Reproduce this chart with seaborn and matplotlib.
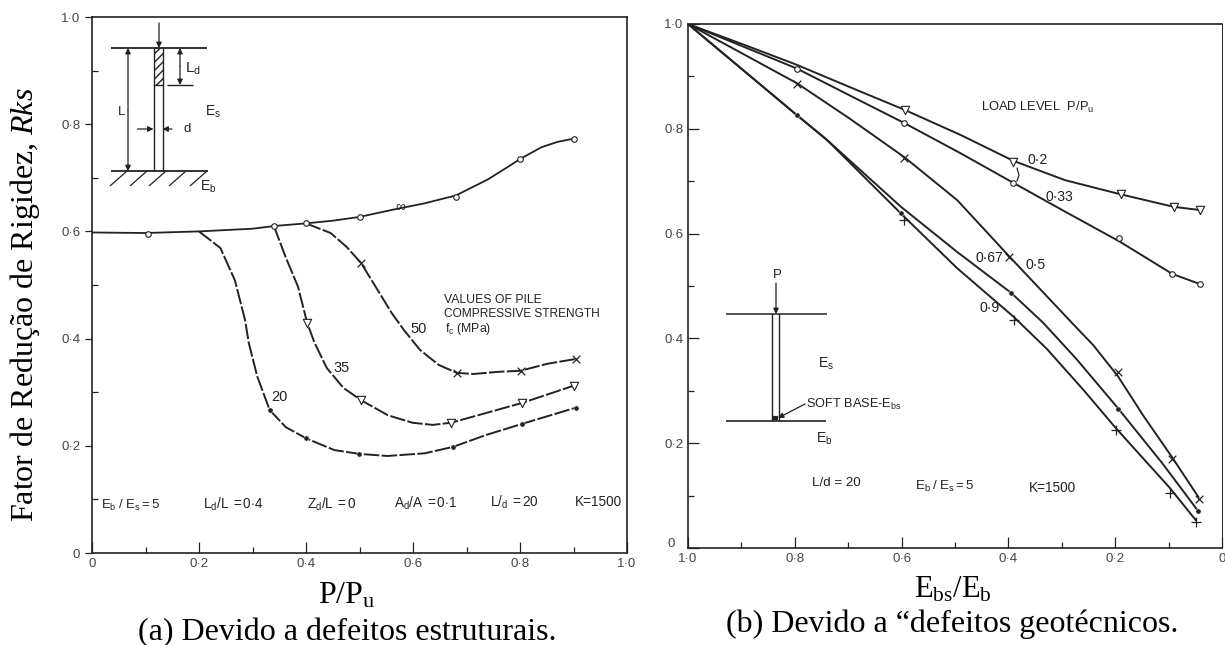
#import packages
import matplotlib.pyplot as plt
from matplotlib.transforms import ScaledTranslation
import seaborn as sns

sns.set_style("white")
plt.rcParams['font.family'] = ['Liberation Sans', 'DejaVu Sans']
plt.rcParams['mathtext.fontset'] = 'custom'
plt.rcParams['mathtext.rm'] = 'Liberation Serif'
plt.rcParams['mathtext.it'] = 'Liberation Serif:italic'
plt.rcParams['mathtext.sf'] = 'Liberation Sans'

#left chart: curves
inf_x = [0, .1, .2, .3, .34, .4, .45, .5, .56, .62, .68, .74, .78, .8, .84, .87, .9]
inf_y = [.598, .597, .6, .605, .61, .615, .62, .627, .64, .652, .667, .697, .722, .735, .757, .767, .773]
inf_mx = [.105, .34, .4, .5, .68, .8, .9]
inf_my = [.596, .61, .615, .627, .665, .735, .773]

fc20_x = [.2, .24, .267, .286, .293, .309, .332, .362, .4, .453, .499, .552, .622, .675, .736, .804, .904]
fc20_y = [.6, .569, .509, .435, .392, .329, .267, .235, .214, .192, .185, .181, .186, .198, .22, .241, .271]
fc20_mx = [.332, .4, .499, .675, .804, .904]
fc20_my = [.267, .214, .185, .198, .241, .271]

fc35_x = [.34, .362, .385, .402, .416, .439, .47, .503, .553, .599, .637, .671, .736, .804, .9]
fc35_y = [.61, .552, .497, .43, .392, .345, .308, .285, .257, .243, .239, .243, .261, .28, .312]
fc35_mx = [.402, .503, .671, .804, .9]
fc35_my = [.43, .285, .243, .28, .312]

fc50_x = [.4, .446, .476, .503, .53, .56, .583, .613, .648, .682, .713, .759, .801, .851, .904]
fc50_y = [.615, .597, .571, .541, .497, .448, .416, .379, .351, .336, .334, .338, .34, .353, .362]
fc50_mx = [.503, .682, .801, .904]
fc50_my = [.541, .336, .34, .362]

#right chart: curves
p20_x = [1, .894, .796, .698, .594, .489, .391, .294, .19, .09, .041]
p20_y = [1, .96, .922, .88, .836, .788, .739, .702, .675, .651, .645]
p20_mx = [.594, .391, .19, .09, .041]
p20_my = [.836, .737, .675, .651, .645]

p33_x = [1, .796, .692, .595, .489, .391, .294, .192, .093, .042]
p33_y = [1, .915, .861, .811, .753, .697, .642, .585, .523, .504]
p33_mx = [.796, .595, .391, .192, .093, .042]
p33_my = [.915, .811, .697, .591, .523, .504]

p50_x = [1, .796, .698, .595, .496, .398, .272, .241, .195, .147, .094, .044]
p50_y = [1, .887, .82, .746, .664, .556, .42, .387, .328, .252, .174, .097]
p50_mx = [.796, .595, .398, .195, .094, .044]
p50_my = [.885, .745, .556, .336, .17, .093]

p67_x = [1, .796, .74, .601, .496, .395, .335, .272, .195, .112, .045]
p67_y = [1, .826, .779, .651, .565, .487, .43, .36, .267, .162, .071]
p67_mx = [.796, .601, .395, .195, .045]
p67_my = [.826, .64, .487, .265, .07]

p90_x = [1, .796, .74, .595, .496, .39, .328, .258, .199, .098, .049]
p90_y = [1, .826, .779, .632, .534, .441, .38, .3, .229, .115, .053]
p90_mx = [.595, .39, .199, .098, .049]
p90_my = [.626, .435, .225, .105, .05]

major = [0, .2, .4, .6, .8, 1]
minor = [.1, .3, .5, .7, .9]
major_labels = ['0', '0·2', '0·4', '0·6', '0·8', '1·0']
ink = '#222222'
long_dash = (0, (8, 1.2))

fig = plt.figure(figsize=(12.25, 6.45), dpi=100)
ax_a = fig.add_axes([92/1225, (645-553)/645, 535/1225, 536/645])
ax_b = fig.add_axes([688/1225, (645-548)/645, 534/1225, 524/645])

#left chart
sns.lineplot(x=inf_x, y=inf_y, ax=ax_a, color=ink, lw=1.3, sort=False, estimator=None)
sns.lineplot(x=fc20_x, y=fc20_y, ax=ax_a, color=ink, lw=1.4, sort=False, estimator=None, linestyle=long_dash)
sns.lineplot(x=fc35_x, y=fc35_y, ax=ax_a, color=ink, lw=1.4, sort=False, estimator=None, linestyle=long_dash)
sns.lineplot(x=fc50_x, y=fc50_y, ax=ax_a, color=ink, lw=1.4, sort=False, estimator=None, linestyle=long_dash)
sns.scatterplot(x=inf_mx, y=inf_my, ax=ax_a, marker='o', s=16, facecolor='white', edgecolor=ink, linewidth=.8, zorder=3)
sns.scatterplot(x=fc20_mx, y=fc20_my, ax=ax_a, marker='o', s=14, color=ink, zorder=3)
sns.scatterplot(x=fc35_mx, y=fc35_my, ax=ax_a, marker='v', s=36, facecolor='white', edgecolor=ink, linewidth=.8, zorder=3)
sns.scatterplot(x=fc50_mx, y=fc50_my, ax=ax_a, marker='x', s=30, color=ink, linewidth=.9, zorder=3)

#right chart
sns.lineplot(x=p20_x, y=p20_y, ax=ax_b, color=ink, lw=1.4, sort=False, estimator=None)
sns.lineplot(x=p33_x, y=p33_y, ax=ax_b, color=ink, lw=1.4, sort=False, estimator=None)
sns.lineplot(x=p50_x, y=p50_y, ax=ax_b, color=ink, lw=1.4, sort=False, estimator=None)
sns.lineplot(x=p67_x, y=p67_y, ax=ax_b, color=ink, lw=1.4, sort=False, estimator=None)
sns.lineplot(x=p90_x, y=p90_y, ax=ax_b, color=ink, lw=1.4, sort=False, estimator=None)
sns.scatterplot(x=p20_mx, y=p20_my, ax=ax_b, marker='v', s=36, facecolor='white', edgecolor=ink, linewidth=.8, zorder=3)
sns.scatterplot(x=p33_mx, y=p33_my, ax=ax_b, marker='o', s=16, facecolor='white', edgecolor=ink, linewidth=.8, zorder=3)
sns.scatterplot(x=p50_mx, y=p50_my, ax=ax_b, marker='x', s=30, color=ink, linewidth=.9, zorder=3)
sns.scatterplot(x=p67_mx, y=p67_my, ax=ax_b, marker='o', s=14, color=ink, zorder=3)
sns.scatterplot(x=p90_mx, y=p90_my, ax=ax_b, marker='+', s=50, color=ink, linewidth=.9, zorder=3)

for ax in [ax_a, ax_b]:
    ax.set_ylim(0, 1)
    ax.set_xticks(major, labels=major_labels)
    ax.set_yticks(major, labels=major_labels)
    ax.set_xticks(minor, minor=True)
    ax.set_yticks(minor, minor=True)
    ax.tick_params(which='major', direction='in', length=8, width=.9, color=ink, labelcolor='#444444', labelsize=9.5, left=True, bottom=True)
    ax.tick_params(which='minor', direction='in', length=4, width=.9, color=ink, left=True, bottom=True)
    for s in ax.spines.values():
        s.set_color(ink)
        s.set_linewidth(1.2)
ax_a.set_xlim(0, 1)
ax_b.set_xlim(1, 0)
ax_a.tick_params(axis='y', which='major', direction='out', length=5)
ax_b.spines['right'].set_linewidth(.7)

#the 0 of the y axis sits up and to the left of the first x label
zero_label = ax_b.get_yticklabels()[0]
zero_label.set_transform(zero_label.get_transform() + ScaledTranslation(-6/72, 4/72, fig.dpi_scale_trans))

#overlay in picture pixels for the hand drawn sketches and the lettering
ov = fig.add_axes([0, 0, 1, 1])
ov.set_xlim(0, 1225)
ov.set_ylim(645, 0)
ov.axis('off')
ov.patch.set_alpha(0)

def seg(x0, y0, x1, y1, lw=1.0):
    ov.plot([x0, x1], [y0, y1], color=ink, lw=lw, solid_capstyle='butt')

def arrow(x0, y0, x1, y1, style='-|>'):
    ov.annotate('', xy=(x1, y1), xytext=(x0, y0),
                arrowprops=dict(arrowstyle=style, color=ink, lw=.9, mutation_scale=8, shrinkA=0, shrinkB=0))

def small(x, y, s, size=9.5, ha='left'):
    ov.text(x, y, s, fontsize=size, color=ink, ha=ha, va='center')

#sketch in the left chart
seg(111, 47.7, 207, 47.7, 1.3)
seg(111, 171, 208, 171, 1.3)
seg(153.5, 47.7, 153.5, 171)
seg(162.5, 47.7, 162.5, 171)
seg(167, 85, 193, 85)
ov.fill_between([153.5, 162.5], 47.7, 85, facecolor='none', edgecolor=ink, hatch='////', lw=0)
seg(153.5, 85, 162.5, 85)
for gx in [127, 147, 166, 186, 207]:
    seg(gx, 171, gx-17, 186, .9)
arrow(159, 23, 159, 48)
arrow(128, 110, 128, 48)
arrow(128, 110, 128, 171)
arrow(180, 66, 180, 48)
arrow(180, 66, 180, 85)
arrow(137.5, 129, 153.5, 129)
arrow(172, 129, 162.5, 129)
small(118, 112, 'L', 9.5)
small(185, 69, r'$\mathsf{L_d}$', 11)
small(184, 129, 'd', 9.5)
small(205, 112, r'$\mathsf{E_s}$', 10)
small(200, 187, r'$\mathsf{E_b}$', 10)

#lettering in the left chart
small(444, 300, 'VALUES OF PILE', 8.8)
small(444, 314, 'COMPRESSIVE STRENGTH', 8.6)
small(445, 329, r'$\mathsf{f_c}$ (MPa)', 8.8)
small(410, 329, '50', 10.5)
small(333, 368, '35', 10.5)
small(271, 397, '20', 10.5)
small(395, 207, '∞', 10)
small(101, 505, r'$\mathsf{E_b\ /\ E_s = 5}$', 9.5)
small(203, 504, r'$\mathsf{L_d/L\ =0{\cdot}4}$', 9.8)
small(307, 504, r'$\mathsf{Z_d/L\ =0}$', 9.8)
small(394, 503, r'$\mathsf{A_d/A\ =0{\cdot}1}$', 9.8)
small(490, 502, r'$\mathsf{L/_d\ =20}$', 9.8)
small(575, 502, 'K=1500', 9.8)

#sketch in the right chart
small(777, 275, 'P', 9.5, ha='center')
arrow(776, 283, 776, 314)
seg(726, 314, 826.6, 314, 1.1)
seg(726, 421, 826, 421, 1.2)
seg(772, 314, 772, 421)
seg(779, 314, 779, 421)
seg(772, 418, 778, 418, 3)
arrow(805, 404, 778, 418)
small(806, 404, r'SOFT BASE-$\mathsf{E_{bs}}$', 9.2)
small(818, 364, r'$\mathsf{E_s}$', 10)
small(816, 439, r'$\mathsf{E_b}$', 10)

#lettering in the right chart
small(981, 107, r'LOAD LEVEL  $\mathsf{P/P_u}$', 9.3)
small(1028, 160, '0·2', 10.2)
small(1046, 197, '0·33', 10)
small(976, 258, '0·67', 10)
small(1025, 265, '0·5', 10.2)
small(980, 308, '0·9', 10.2)
small(812, 483, 'L/d = 20', 9.6)
small(915, 486, r'$\mathsf{E_b\ /\ E_s = 5}$', 9.6)
small(1029, 488, 'K=1500', 9.8)
ov.plot([1017, 1019, 1017], [168, 175, 181], color=ink, lw=.9)

#serif captions around the charts
serif = 'Liberation Serif'
ov.text(33, 305, r'Fator de Redução de Rigidez, $\mathit{Rks}$', fontsize=23, family=serif, color='black',
        rotation=90, ha='center', va='baseline', rotation_mode='anchor')
ov.text(347, 604, r'$\mathrm{P/P_u}$', fontsize=23, color='black', ha='center', va='baseline')
ov.text(347, 640, '(a) Devido a defeitos estruturais.', fontsize=23, family=serif, color='black', ha='center', va='baseline')
ov.text(953, 597, r'$\mathrm{E_{bs}/E_b}$', fontsize=22, color='black', ha='center', va='baseline')
ov.text(952, 632, '(b) Devido a “defeitos geotécnicos.', fontsize=23, family=serif, color='black', ha='center', va='baseline')

plt.savefig("out.png", dpi=100)
